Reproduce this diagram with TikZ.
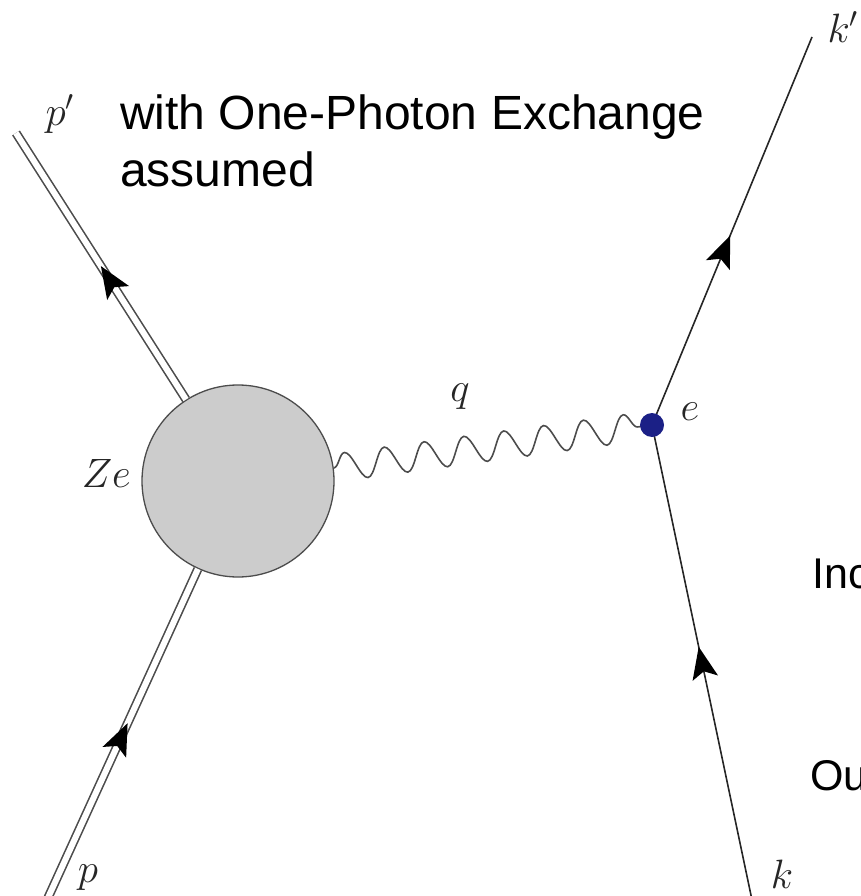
\RequirePackage{fix-cm}
\documentclass[tikz,border=0pt]{standalone}
\usepackage{fontspec}
\newfontfamily\helv{Liberation Sans}
\usetikzlibrary{decorations.pathmorphing,decorations.markings}
\definecolor{vtxblue}{RGB}{27,32,134}
\begin{document}
\begin{tikzpicture}[x=1pt,y=-1pt,
  lbl/.style={text=black!85, font=\fontsize{41}{46}\selectfont, inner sep=0pt},
  big/.style={font=\helv\fontsize{48}{56}\selectfont, inner sep=0pt, anchor=base west},
  side/.style={font=\helv\fontsize{43}{50}\selectfont, inner sep=0pt, anchor=base west},
  fermion/.style={draw=black!85, line width=1.6pt},
  dbl/.style={draw=black!70, line width=1.6pt, double=white, double distance=6pt},
  photon/.style={draw=black!70, line width=1.6pt, decorate,
     decoration={snake, amplitude=14pt, segment length=40.2pt}},
  tipmark/.style={postaction={decorate, decoration={markings,
     mark=at position #1 with {\fill[black] (16pt,0pt) -- (-16pt,13pt) -- (-9pt,0pt) -- (-16pt,-13pt) -- cycle;}}}}
]
\useasboundingbox (0,0) rectangle (861,896);
% end points
\coordinate (pp) at (16,133);
\coordinate (pb) at (47,900);
\coordinate (kp) at (812,37);
\coordinate (kb) at (752,900);
\coordinate (vtx) at (652,425);
% blob
\node[circle, minimum size=192pt, inner sep=0pt, draw=black!70, fill=black!20, line width=1.3pt] (blob) at (238,481) {};
% proton lines
\draw[dbl] (blob) -- (pp);
\draw[dbl] (pb) -- (blob);
\path[tipmark=0.45] (blob) -- (pp);
\path[tipmark=0.49] (pb) -- (blob);
% electron lines
\draw[fermion, tipmark=0.5] (kb) -- (vtx);
\draw[fermion, tipmark=0.45] (vtx) -- (kp);
% photon
\draw[photon] (blob) -- (vtx);
% vertex dot
\node[circle, fill=vtxblue, minimum size=24pt, inner sep=0pt] (dot) at (vtx) {};
% labels
\node[lbl] (lpp) at (60,114) {$p'$};
\node[lbl, anchor=east] (lze) at (131,473) {$Ze$};
\node[lbl] (lq) at (460,397) {$q$};
\node[lbl] (le) at (690,412) {$e$};
\node[lbl] (lkp) at (843,27) {$k'$};
\node[lbl] (lp) at (88,878) {$p$};
\node[lbl] (lk) at (782,874) {$k$};
% texts
\node[big] (t1) at (120,130) {with One-Photon Exchange};
\node[big] (t2) at (120,186) {assumed};
\node[side] (t3) at (812,588) {Inc};
\node[side] (t4) at (810,790) {Ou};
\end{tikzpicture}
\end{document}
